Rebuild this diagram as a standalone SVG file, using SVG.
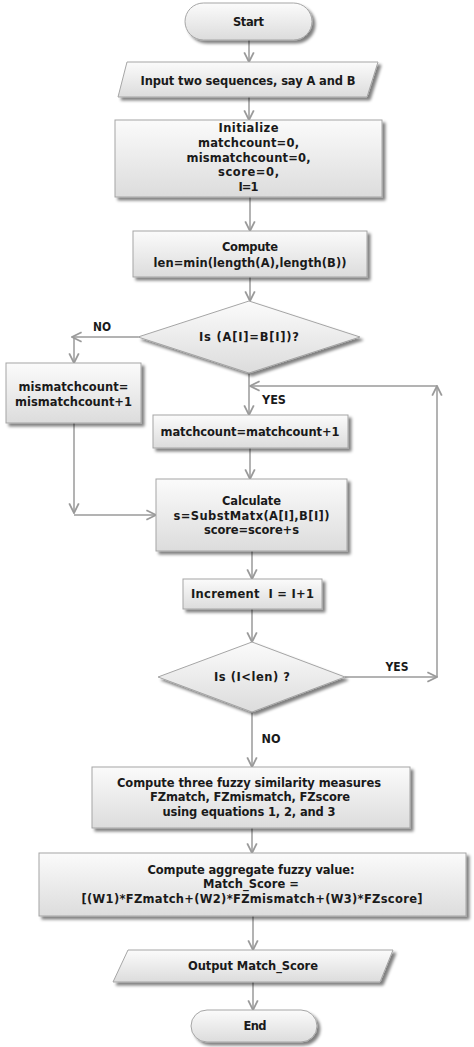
<svg xmlns="http://www.w3.org/2000/svg" width="474" height="1047" viewBox="0 0 474 1047">
<defs>
<linearGradient id="g" x1="0" y1="0" x2="0" y2="1">
<stop offset="0" stop-color="#fbfbfb"/>
<stop offset="1" stop-color="#dcdcdc"/>
</linearGradient>
<filter id="sh" x="-10%" y="-20%" width="130%" height="150%">
<feGaussianBlur in="SourceAlpha" stdDeviation="1.5"/>
<feOffset dx="3" dy="3" result="b"/>
<feComponentTransfer><feFuncA type="linear" slope="0.5"/></feComponentTransfer>
<feMerge><feMergeNode/><feMergeNode in="SourceGraphic"/></feMerge>
</filter>
<marker id="ah" markerUnits="userSpaceOnUse" markerWidth="12" markerHeight="12" viewBox="0 0 10 10" refX="9" refY="5" orient="auto">
<path d="M1,1 L9,5 L1,9" fill="none" stroke="#9a9a9a" stroke-width="1.5"/>
</marker>
</defs>
<style>
.n{fill:url(#g);stroke:#a5a5a5;stroke-width:1;filter:url(#sh)}
.t{font-family:"DejaVu Sans",Verdana,sans-serif;font-weight:bold;font-size:11.5px;fill:#1a1a1a;text-anchor:middle}
.c{fill:none;stroke:#9a9a9a;stroke-width:1.5;marker-end:url(#ah)}
</style>
<rect width="474" height="1047" fill="#ffffff"/>
<g id="connectors">
<path class="c" d="M249,40 V62"/>
<path class="c" d="M249,97 V120"/>
<path class="c" d="M250,197 V231"/>
<path class="c" d="M250,277 V301"/>
<path class="c" d="M138,337 H72"/>
<path class="c" d="M74,338 V363"/>
<path class="c" d="M249,373 V415"/>
<path class="c" d="M250,448 V479"/>
<path class="c" d="M74,423 V513"/>
<path class="c" d="M74,515 H156"/>
<path class="c" d="M252,551 V579"/>
<path class="c" d="M252,609 V642"/>
<path class="c" d="M345,677 H437"/>
<path class="c" d="M437,677 V386"/>
<path class="c" d="M437,386 H250"/>
<path class="c" d="M252,712 V767"/>
<path class="c" d="M252,828 V853"/>
<path class="c" d="M253,916 V950"/>
<path class="c" d="M253,982 V1010"/>
<text class="t" x="102" y="331" textLength="18" lengthAdjust="spacingAndGlyphs">NO</text>
<text class="t" x="274" y="404" textLength="24" lengthAdjust="spacingAndGlyphs">YES</text>
<text class="t" x="397" y="671" textLength="23" lengthAdjust="spacingAndGlyphs">YES</text>
<text class="t" x="271" y="743" textLength="19" lengthAdjust="spacingAndGlyphs">NO</text>
</g>
<g id="start">
<rect class="n" x="185" y="3" width="127" height="37" rx="18.5"/>
<text class="t" x="248.5" y="26" textLength="31">Start</text>
</g>
<g id="input">
<polygon class="n" points="127,62 378,62 367,97 118,97"/>
<text class="t" x="248" y="85" textLength="215">Input two sequences, say A and B</text>
</g>
<g id="init">
<rect class="n" x="115" y="120" width="267" height="77"/>
<text class="t" x="248.5" y="132" textLength="60">Initialize</text>
<text class="t" x="248.5" y="147" textLength="101">matchcount=0,</text>
<text class="t" x="248.5" y="162" textLength="124">mismatchcount=0,</text>
<text class="t" x="248.5" y="176" textLength="61">score=0,</text>
<text class="t" x="248.5" y="191" textLength="20">I=1</text>
</g>
<g id="compute">
<rect class="n" x="133" y="231" width="234" height="46"/>
<text class="t" x="250" y="251" textLength="56">Compute</text>
<text class="t" x="250" y="267" textLength="193">len=min(length(A),length(B))</text>
</g>
<g id="dec1">
<polygon class="n" points="249,301 360,337 249,373 138,337"/>
<text class="t" x="249" y="341" textLength="100">Is (A[I]=B[I])?</text>
</g>
<g id="mismatch">
<rect class="n" x="6" y="363" width="135" height="60"/>
<text class="t" x="73.5" y="391" textLength="110">mismatchcount=</text>
<text class="t" x="73.5" y="406" textLength="117">mismatchcount+1</text>
</g>
<g id="match">
<rect class="n" x="153" y="415" width="195" height="33"/>
<text class="t" x="250" y="436" textLength="179">matchcount=matchcount+1</text>
</g>
<g id="calc">
<rect class="n" x="156" y="479" width="191" height="72"/>
<text class="t" x="251.5" y="505" textLength="59">Calculate</text>
<text class="t" x="251.5" y="520" textLength="156">s=SubstMatx(A[I],B[I])</text>
<text class="t" x="251.5" y="534" textLength="95">score=score+s</text>
</g>
<g id="incr">
<rect class="n" x="183" y="579" width="139" height="30"/>
<text class="t" x="252.5" y="598" textLength="123" xml:space="preserve">Increment  I = I+1</text>
</g>
<g id="dec2">
<polygon class="n" points="252,642 345,677 252,712 158,677"/>
<text class="t" x="252" y="681" textLength="76">Is (I&lt;len) ?</text>
</g>
<g id="fuzzy">
<rect class="n" x="92" y="767" width="318" height="61"/>
<text class="t" x="249" y="787" textLength="264">Compute three fuzzy similarity measures</text>
<text class="t" x="250" y="801" textLength="200">FZmatch, FZmismatch, FZscore</text>
<text class="t" x="249" y="816" textLength="173">using equations 1, 2, and 3</text>
</g>
<g id="aggregate">
<rect class="n" x="39" y="853" width="427" height="63"/>
<text class="t" x="251" y="874" textLength="207">Compute aggregate fuzzy value:</text>
<text class="t" x="251" y="888" textLength="96">Match_Score =</text>
<text class="t" x="252" y="903" textLength="341">[(W1)*FZmatch+(W2)*FZmismatch+(W3)*FZscore]</text>
</g>
<g id="output">
<polygon class="n" points="128,950 393,950 380,982 113,982"/>
<text class="t" x="253" y="970" textLength="130">Output Match_Score</text>
</g>
<g id="end">
<rect class="n" x="191" y="1010" width="126" height="32" rx="16"/>
<text class="t" x="255" y="1030" textLength="23">End</text>
</g>
</svg>
